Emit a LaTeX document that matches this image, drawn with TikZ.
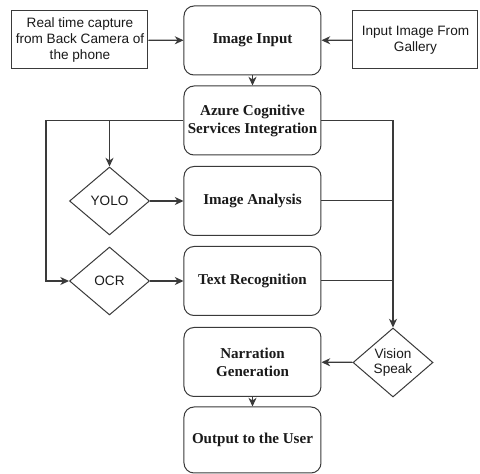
\documentclass[tikz,border=0pt]{standalone}
\usepackage{fontspec}
\setmainfont{Liberation Serif}
\setsansfont{Liberation Sans}
\usetikzlibrary{shapes.geometric,arrows.meta}
\definecolor{edgegray}{HTML}{3A3A3A}
\definecolor{darktext}{HTML}{1A1A1A}

\tikzset{
  procbox/.style={draw=edgegray, line width=0.75pt, rounded corners=7.5pt, minimum width=102.75pt, minimum height=51.75pt, inner sep=2pt, align=center, text=darktext, font=\fontsize{11.3}{13.5}\selectfont\bfseries},
  srcbox/.style={draw=edgegray, line width=0.75pt, minimum height=43.5pt, inner sep=2pt, align=center, text=darktext, font=\sffamily\fontsize{10.2}{11.7}\selectfont},
  choice/.style={diamond, draw=edgegray, line width=0.75pt, minimum width=60pt, minimum height=51pt, inner sep=0pt, align=center, text=darktext, font=\sffamily\fontsize{10.2}{11.7}\selectfont},
  link/.style={draw=edgegray, line width=0.75pt},
  flow/.style={link, line width=0.9pt, -{Stealth[length=6.5pt,width=6pt,inset=2pt]}}
}

\begin{document}
\begin{tikzpicture}[x=0.75pt,y=-0.75pt]
\useasboundingbox (0,0) rectangle (480,474);
\fill[white] (0,0) rectangle (480,474);

\node[srcbox, minimum width=102pt] (camera) at (80,40) {Real time capture\\from Back Camera of\\the phone};
\node[srcbox, minimum width=93.75pt] (gallery) at (415.5,40) {Input Image From\\Gallery};
\node[procbox] (input) at (252.5,40.5) {Image Input};
\node[procbox] (azure) at (252.5,120.5) {Azure Cognitive\\Services Integration};
\node[procbox] (analysis) at (252.5,201) {Image Analysis};
\node[procbox] (textrec) at (252.5,281) {Text Recognition};
\node[procbox] (narration) at (252.5,362) {Narration\\Generation};
\node[procbox, minimum height=49.5pt] (output) at (252.5,440) {Output to the User};

\node[choice] (yolo) at (109.5,201) {YOLO};
\node[choice] (ocr) at (109.5,281) {OCR};
\node[choice, minimum height=51.75pt] (vision) at (393,362.5) {Vision\\Speak};

\coordinate (leftrail) at (46,120.5);

\draw[flow] (camera) -- (input);
\draw[flow] (gallery) -- (input);
\draw[flow] (input) -- (azure);
\draw[flow] (azure.west) -- (leftrail) |- (ocr.west);
\draw[flow] (yolo.north |- azure.west) -- (yolo.north);
\draw[flow] (azure.east) -| (vision.north);
\draw[flow] (yolo) -- (analysis);
\draw[flow] (ocr) -- (textrec);
\draw[link] (analysis.east) -- (analysis.east -| vision.north);
\draw[link] (textrec.east) -- (textrec.east -| vision.north);
\draw[flow] (vision) -- (narration);
\draw[flow] (narration) -- (output);
\end{tikzpicture}
\end{document}
